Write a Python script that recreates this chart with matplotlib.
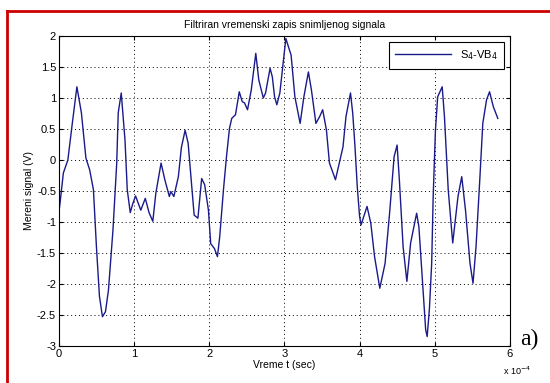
import matplotlib.pyplot as plt
from matplotlib.lines import Line2D

# time in units of 1e-4 s, signal in V
t = [0.00, 0.02, 0.06, 0.12, 0.18, 0.24, 0.30, 0.36, 0.41, 0.46,
     0.50, 0.54, 0.58, 0.62, 0.66, 0.72, 0.77, 0.79, 0.83, 0.88,
     0.91, 0.95, 0.98, 1.02, 1.09, 1.15, 1.20, 1.25, 1.29, 1.36,
     1.41, 1.47, 1.49, 1.53, 1.59, 1.63, 1.68, 1.72, 1.76, 1.80,
     1.85, 1.90, 1.94, 1.99, 2.02, 2.07, 2.11, 2.14, 2.19, 2.23,
     2.27, 2.30, 2.35, 2.40, 2.44, 2.47, 2.51, 2.56, 2.62, 2.66,
     2.72, 2.75, 2.81, 2.84, 2.87, 2.90, 2.94, 3.00, 3.02, 3.09,
     3.14, 3.21, 3.26, 3.32, 3.36, 3.42, 3.47, 3.51, 3.56, 3.60,
     3.68, 3.74, 3.78, 3.82, 3.88, 3.91, 3.94, 3.97, 4.00, 4.02,
     4.10, 4.15, 4.20, 4.27, 4.34, 4.40, 4.46, 4.50, 4.53, 4.58,
     4.63, 4.68, 4.76, 4.79, 4.84, 4.88, 4.90, 4.93, 4.96, 4.98,
     5.01, 5.04, 5.10, 5.13, 5.18, 5.24, 5.31, 5.36, 5.41, 5.47,
     5.51, 5.55, 5.60, 5.64, 5.69, 5.73, 5.78, 5.84]
signal = [-0.85, -0.65, -0.21, 0.00, 0.60, 1.18, 0.76, 0.03, -0.16, -0.48,
          -1.40, -2.20, -2.53, -2.45, -2.10, -1.13, -0.05, 0.76, 1.08, 0.32,
          -0.48, -0.85, -0.72, -0.58, -0.81, -0.62, -0.85, -0.99, -0.54, -0.05,
          -0.32, -0.59, -0.51, -0.59, -0.27, 0.20, 0.48, 0.27, -0.32, -0.89,
          -0.94, -0.30, -0.40, -0.81, -1.35, -1.43, -1.56, -1.24, -0.48, 0.05,
          0.51, 0.67, 0.73, 1.10, 0.94, 0.92, 0.81, 1.13, 1.72, 1.29,
          1.00, 1.08, 1.48, 1.34, 1.02, 0.89, 1.08, 1.75, 1.96, 1.69,
          1.02, 0.59, 1.02, 1.42, 1.13, 0.59, 0.70, 0.81, 0.48, -0.05,
          -0.32, 0.00, 0.21, 0.70, 1.08, 0.75, 0.21, -0.43, -0.90, -1.05,
          -0.75, -1.02, -1.56, -2.07, -1.67, -0.86, 0.05, 0.24, -0.32, -1.40,
          -1.96, -1.34, -0.86, -1.08, -1.99, -2.74, -2.85, -2.40, -1.67, -0.59,
          0.48, 1.02, 1.18, 0.70, -0.48, -1.34, -0.59, -0.27, -0.81, -1.67,
          -1.99, -1.40, -0.32, 0.59, 0.97, 1.10, 0.86, 0.67]

xticks = [0, 1, 2, 3, 4, 5, 6]
yticks = [-3, -2.5, -2, -1.5, -1, -0.5, 0, 0.5, 1, 1.5, 2]
ytick_labels = ['-3', '-2.5', '-2', '-1.5', '-1', '-0.5', '0', '0.5', '1', '1.5', '2']

plt.rcParams['font.family'] = ['Liberation Sans', 'DejaVu Sans']

fig = plt.figure(figsize=(5.5, 3.83), dpi=100)
ax = fig.add_axes([0.107, 0.097, 0.820, 0.809])

ax.plot(t, signal, color='#1a1a8a', lw=1.0, label=r'S$_4$-VB$_4$')

ax.set_xlim(0, 6)
ax.set_ylim(-3, 2)
ax.set_xticks(xticks)
ax.set_yticks(yticks)
ax.set_yticklabels(ytick_labels)
ax.tick_params(direction='in', length=3, labelsize=8, top=True, right=True, pad=2)
ax.grid(True, linestyle=(0, (1, 3)), color='black', lw=0.7)
for s in ax.spines.values():
    s.set_linewidth(0.8)

ax.set_title('Filtriran vremenski zapis snimljenog signala', fontsize=7.5, pad=6)
ax.set_xlabel('Vreme t (sec)', fontsize=7.5, labelpad=1)
ax.set_ylabel('Mereni signal (V)', fontsize=7.5, labelpad=2)

leg = ax.legend(loc='upper right', fontsize=8, fancybox=False, framealpha=1,
                edgecolor='black', handlelength=5.0, borderpad=0.6,
                borderaxespad=0.5)
leg.get_frame().set_linewidth(0.8)

fig.text(0.915, 0.022, r'x 10$^{-4}$', fontsize=6.5)
fig.text(0.945, 0.10, 'a)', fontsize=17, family='Liberation Serif')

# red frame
fig.add_artist(Line2D([7 / 550, 1], [1 - 11 / 383, 1 - 11 / 383], color='#cc0000', lw=2))
fig.add_artist(Line2D([7 / 550, 7 / 550], [0, 1 - 11 / 383], color='#cc0000', lw=2))

fig.savefig('out.png', dpi=100)
